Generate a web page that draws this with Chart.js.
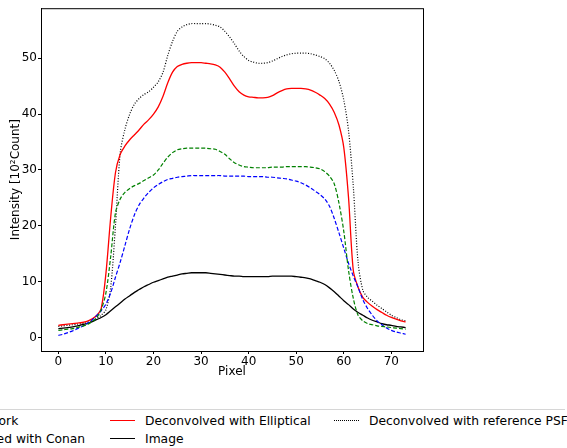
<!DOCTYPE html>
<html>
<head>
<meta charset="utf-8">
<script src="https://cdn.jsdelivr.net/npm/chart.js@4/dist/chart.umd.min.js"></script>
<style>
  html, body { margin: 0; padding: 0; background: #fff; }
  body { width: 567px; height: 448px; position: relative; overflow: hidden; font-family: "DejaVu Sans", sans-serif; }
  #chart { position: absolute; left: 0; top: 0; }
  #legend { position: absolute; left: -140px; top: 409px; width: 705px; height: 60px; border-top: 1px solid #d6d6d6; }
  .item { position: absolute; font-size: 12.3px; color: #000; line-height: 14px; white-space: nowrap; }
  .swatch { position: absolute; width: 25px; height: 0; }
</style>
</head>
<body>
<canvas id="chart" width="567" height="380"></canvas>
<div id="legend"></div>
<script>
// Pixel index along the cut
const pixels = Array.from({ length: 74 }, (_, i) => i);

// Intensity values [10^2 Count]
const network = [1.3, 1.4, 1.5, 1.6, 1.8, 2.0, 2.3, 2.8, 3.5, 5.0,
  8.0, 14.5, 22.3, 24.8, 26.0, 26.7, 27.2, 27.6, 28.1, 28.6,
  29.1, 30.0, 31.2, 32.3, 33.1, 33.6, 33.8, 33.9, 33.9, 33.9,
  33.9, 33.9, 33.8, 33.7, 33.3, 32.8, 32.0, 31.3, 30.9, 30.6,
  30.5, 30.4, 30.4, 30.4, 30.4, 30.5, 30.5, 30.5, 30.6, 30.6,
  30.6, 30.6, 30.6, 30.5, 30.4, 30.2, 29.7, 28.9, 27.5, 24.0,
  19.0, 12.0, 7.0, 4.0, 3.0, 2.5, 2.3, 2.1, 2.0, 1.9,
  1.8, 1.7, 1.6, 1.5];

const conan = [0.4, 0.6, 0.9, 1.2, 1.6, 2.0, 2.5, 3.1, 3.9, 4.8,
  6.0, 8.0, 10.8, 13.5, 16.5, 19.5, 22.0, 23.8, 25.0, 26.0,
  26.8, 27.4, 27.9, 28.3, 28.5, 28.7, 28.8, 28.9, 29.0, 29.0,
  29.0, 29.0, 29.0, 29.0, 29.0, 28.9, 28.9, 28.9, 28.9, 28.9,
  28.8, 28.8, 28.8, 28.8, 28.7, 28.7, 28.6, 28.5, 28.4, 28.2,
  28.0, 27.7, 27.3, 26.8, 26.2, 25.6, 24.8, 23.5, 21.3, 18.7,
  16.0, 13.3, 11.0, 9.0, 6.8, 5.2, 4.0, 3.0, 2.3, 1.7,
  1.3, 1.0, 0.8, 0.6];

const elliptical = [2.2, 2.3, 2.4, 2.5, 2.6, 2.7, 2.9, 3.3, 3.9, 5.2,
  11.5, 21.5, 29.5, 32.8, 34.3, 35.4, 36.3, 37.2, 38.2, 39.0,
  40.0, 41.3, 43.2, 45.6, 47.5, 48.5, 48.9, 49.1, 49.2, 49.2,
  49.2, 49.1, 49.0, 48.8, 48.4, 47.5, 46.3, 45.0, 44.0, 43.4,
  43.1, 43.0, 42.9, 42.9, 43.0, 43.3, 43.8, 44.2, 44.5, 44.6,
  44.6, 44.6, 44.5, 44.3, 43.9, 43.4, 42.8, 41.8, 40.3, 38.0,
  34.0, 25.0, 12.0, 9.0, 7.2, 6.3, 5.6, 5.0, 4.5, 4.0,
  3.6, 3.3, 3.0, 2.8];

const image = [1.6, 1.7, 1.8, 1.9, 2.1, 2.3, 2.5, 2.8, 3.2, 3.6,
  4.1, 4.8, 5.5, 6.2, 6.9, 7.5, 8.1, 8.6, 9.1, 9.5,
  9.9, 10.2, 10.5, 10.8, 11.0, 11.2, 11.4, 11.5, 11.6, 11.6,
  11.6, 11.6, 11.5, 11.4, 11.3, 11.2, 11.1, 11.0, 11.0, 10.9,
  10.9, 10.9, 10.9, 10.9, 10.9, 11.0, 11.0, 11.0, 11.0, 11.0,
  10.9, 10.8, 10.7, 10.5, 10.2, 9.9, 9.5, 8.9, 8.2, 7.4,
  6.6, 5.9, 5.1, 4.5, 4.0, 3.5, 3.1, 2.8, 2.5, 2.3,
  2.2, 2.0, 1.9, 1.8];

const referencePsf = [2.0, 2.1, 2.2, 2.3, 2.4, 2.5, 2.7, 3.0, 3.4, 4.0,
  5.0, 9.0, 20.0, 33.0, 37.3, 40.0, 41.8, 42.8, 43.5, 44.0,
  44.8, 45.8, 47.5, 50.5, 53.0, 54.8, 55.6, 56.0, 56.2, 56.2,
  56.2, 56.2, 56.1, 55.9, 55.6, 54.8, 53.8, 52.6, 51.3, 50.3,
  49.6, 49.3, 49.1, 49.1, 49.2, 49.5, 49.9, 50.3, 50.6, 50.8,
  50.9, 50.9, 50.9, 50.8, 50.6, 50.3, 49.9, 49.1, 47.8, 45.8,
  42.5, 37.0, 27.0, 13.5, 8.5, 7.2, 6.5, 5.8, 5.2, 4.6,
  4.0, 3.6, 3.2, 3.0];

const xTicks = [0, 10, 20, 30, 40, 50, 60, 70];
const yTicks = [0, 10, 20, 30, 40, 50];

// label, values, colour, dash, legend column, legend row
const series = [
  { label: 'Deep network', data: network, color: '#008000', dash: [4, 2], col: 0, row: 0 },
  { label: 'Deconvolved with Conan', data: conan, color: '#0000ff', dash: [4, 2], col: 0, row: 1 },
  { label: 'Deconvolved with Elliptical', data: elliptical, color: '#ff0000', dash: [], col: 1, row: 0 },
  { label: 'Image', data: image, color: '#000000', dash: [], col: 1, row: 1 },
  { label: 'Deconvolved with reference PSF', data: referencePsf, color: '#000000', dash: [1, 1.7], col: 2, row: 0 },
];

// frame on all four sides of the plot area
const framePlugin = {
  id: 'frame',
  afterDraw(chart) {
    const { ctx, chartArea: a } = chart;
    ctx.save();
    ctx.strokeStyle = '#000';
    ctx.lineWidth = 1;
    ctx.strokeRect(a.left + 0.5, a.top + 0.5, a.right - a.left, a.bottom - a.top);
    ctx.restore();
  }
};

const tickFont = { family: 'DejaVu Sans', size: 12 };

new Chart(document.getElementById('chart'), {
  type: 'line',
  data: {
    datasets: series.map(s => ({
      label: s.label,
      data: pixels.map((p, i) => ({ x: p, y: s.data[i] })),
      borderColor: s.color,
      borderDash: s.dash,
      borderWidth: s.dash.length ? 1.2 : 1.3,
      pointRadius: 0,
      tension: 0.3,
      fill: false,
    }))
  },
  options: {
    responsive: false,
    animation: false,
    devicePixelRatio: 1,
    layout: { padding: { left: 0, right: 144, top: 5, bottom: 0 } },
    plugins: { legend: { display: false }, tooltip: { enabled: false } },
    scales: {
      x: {
        type: 'linear',
        min: -3.65,
        max: 76.65,
        afterBuildTicks: s => { s.ticks = xTicks.map(v => ({ value: v })); },
        afterFit: s => { s.height = 29; },
        grid: { drawOnChartArea: false, drawTicks: true, tickLength: 3, color: '#000' },
        border: { display: true, color: '#000' },
        ticks: { color: '#000', font: tickFont, padding: 1, maxRotation: 0 },
        title: { display: true, text: 'Pixel', color: '#000', font: tickFont, padding: { top: 0, bottom: 1 } },
      },
      y: {
        min: -2.4,
        max: 58.95,
        afterBuildTicks: s => { s.ticks = yTicks.map(v => ({ value: v })); },
        afterFit: s => { s.width = 41; },
        grid: { drawOnChartArea: false, drawTicks: true, tickLength: 3, color: '#000' },
        border: { display: true, color: '#000' },
        ticks: { color: '#000', font: tickFont, padding: 1 },
        title: { display: true, text: 'Intensity [10²Count]', color: '#000', font: tickFont, padding: { top: 9, bottom: 0 } },
      }
    }
  },
  plugins: [framePlugin]
});

// legend below the plot, three columns, first column runs off the left edge
const colX = [37, 250, 474];
const rowY = [4, 22];
const legend = document.getElementById('legend');
series.forEach(s => {
  const sw = document.createElement('div');
  sw.className = 'swatch';
  sw.style.left = colX[s.col] + 'px';
  sw.style.top = (rowY[s.row] + 6) + 'px';
  const style = s.dash.length === 0 ? 'solid' : (s.dash[0] < 2 ? 'dotted' : 'dashed');
  sw.style.borderTop = (style === 'dotted' ? 1 : 1.4) + 'px ' + style + ' ' + s.color;
  legend.appendChild(sw);
  const t = document.createElement('div');
  t.className = 'item';
  t.textContent = s.label;
  t.style.left = (colX[s.col] + 35) + 'px';
  t.style.top = rowY[s.row] + 'px';
  legend.appendChild(t);
});
</script>
</body>
</html>
